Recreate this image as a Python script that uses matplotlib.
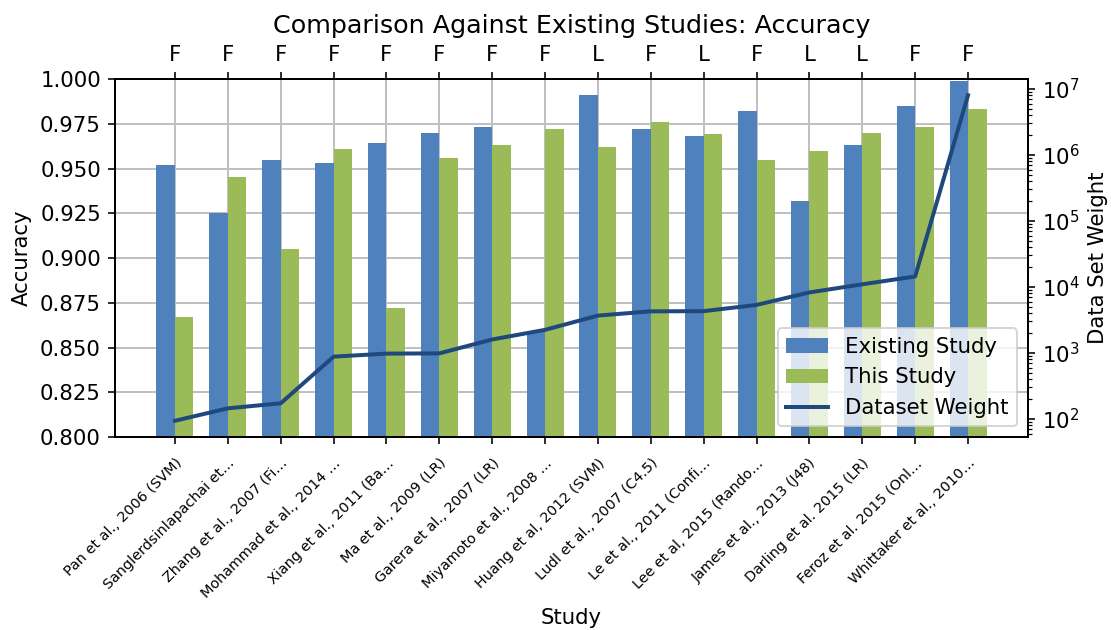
import numpy as np
import matplotlib
matplotlib.use("Agg")
import matplotlib.pyplot as plt

studies = [
    "Pan et al., 2006 (SVM)",
    "Sanglerdsinlapachai et…",
    "Zhang et al., 2007 (Fi…",
    "Mohammad et al., 2014 …",
    "Xiang et al., 2011 (Ba…",
    "Ma et al., 2009 (LR)",
    "Garera et al., 2007 (LR)",
    "Miyamoto et al., 2008 …",
    "Huang et al, 2012 (SVM)",
    "Ludl et al., 2007 (C4.5)",
    "Le et al., 2011 (Confi…",
    "Lee et al, 2015 (Rando…",
    "James et al., 2013 (J48)",
    "Darling et al. 2015 (LR)",
    "Feroz et al. 2015 (Onl…",
    "Whittaker et al., 2010…",
]
feature_type = ["F", "F", "F", "F", "F", "F", "F", "F",
                "L", "F", "L", "F", "L", "L", "F", "F"]

existing_acc = [0.952, 0.925, 0.955, 0.953, 0.964, 0.970, 0.973, 0.859,
                0.991, 0.972, 0.968, 0.982, 0.932, 0.963, 0.985, 0.999]
this_acc = [0.867, 0.945, 0.905, 0.961, 0.872, 0.956, 0.963, 0.972,
            0.962, 0.976, 0.969, 0.955, 0.960, 0.970, 0.973, 0.983]
dataset_weight = [94, 145, 173, 880, 977, 986, 1600, 2240,
                  3680, 4270, 4300, 5340, 8260, 10960, 14400, 8.0e6]

plt.rcParams["font.size"] = 10.6

x = np.arange(len(studies))
width = 0.35

fig = plt.figure(figsize=(1111 / 144, 630 / 144), dpi=144)
ax = fig.add_axes([0.1035, 0.3063, 0.8218, 0.5683])

ax.bar(x - width / 2, existing_acc, width, color="#4F81BD", label="Existing Study")
ax.bar(x + width / 2, this_acc, width, color="#9BBB59", label="This Study")
ax.set_ylim(0.8, 1.0)
ax.set_yticks(np.arange(0.8, 1.0001, 0.025))
ax.set_yticklabels([f"{v:.3f}" for v in np.arange(0.8, 1.0001, 0.025)])
ax.set_xticks(x)
ax.set_xticklabels(studies, rotation=45, ha="right", rotation_mode="anchor", fontsize=7.2)
ax.tick_params(axis="x", pad=6)
ax.set_xlabel("Study")
ax.xaxis.set_label_coords(0.5, -0.478)
ax.set_ylabel("Accuracy")
ax.grid(True, color="#c0c0c0", linewidth=1.0)
ax.set_axisbelow(True)

# dataset size on a log scale
ax2 = ax.twinx()
ax2.plot(x, dataset_weight, color="#1F497D", linewidth=2, label="Dataset Weight")
ax2.set_yscale("log")
ax2.set_ylabel("Data Set Weight")

# feature type markers along the top
ax3 = ax.twiny()
ax3.set_xlim(ax.get_xlim())
ax3.set_xticks(x)
ax3.set_xticklabels(feature_type)

ax.set_title("Comparison Against Existing Studies: Accuracy", fontsize=12.7)

h1, l1 = ax.get_legend_handles_labels()
h2, l2 = ax2.get_legend_handles_labels()
ax2.legend(h1 + h2, l1 + l2, loc="lower right")

fig.savefig("out.png", dpi=144)
